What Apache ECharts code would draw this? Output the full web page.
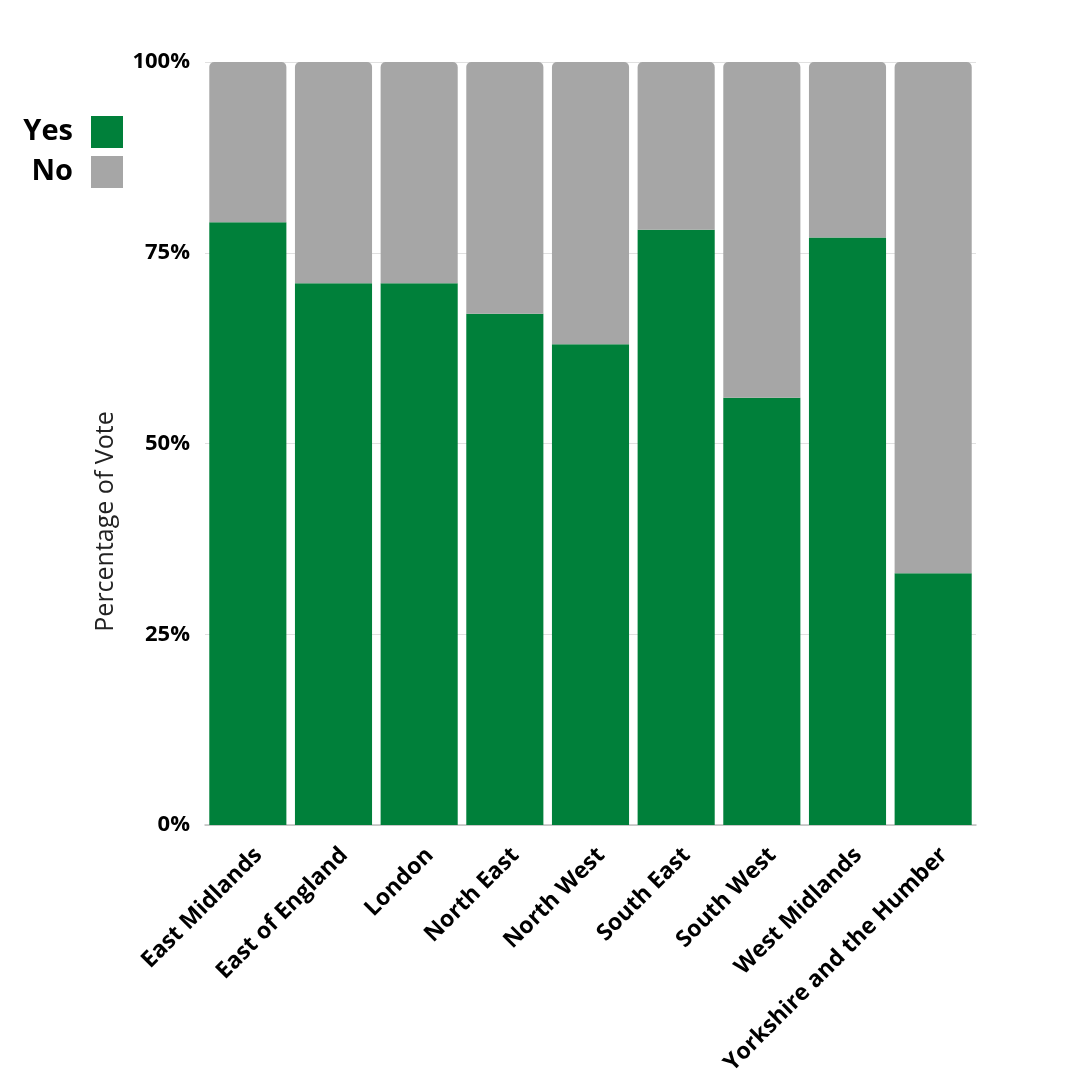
<!DOCTYPE html>
<html><head><meta charset="utf-8">
<script src="https://cdn.jsdelivr.net/npm/echarts@6/dist/echarts.min.js"></script>
<style>html,body{margin:0;padding:0;background:#fff}#c{width:1080px;height:1080px}</style>
</head><body><div id="c"></div>
<script>
const categories = ['East Midlands','East of England','London','North East','North West','South East','South West','West Midlands','Yorkshire and the Humber'];
const yesValues = [79, 71, 71, 67, 63, 78, 56, 77, 33];
const noValues = [21, 29, 29, 33, 37, 22, 44, 23, 67];
const yTicks = ['0%','25%','50%','75%','100%'];

const chart = echarts.init(document.getElementById('c'));
const legendText = {fontFamily:'Open Sans', fontWeight:'bold', fontSize:29, color:'#000', padding:[0,13,0,0]};
chart.setOption({
  animation:false,
  textStyle:{fontFamily:'Open Sans'},
  legend:[
    {data:['Yes'], right:957, top:116, padding:0, align:'right', itemWidth:32, itemHeight:32, itemGap:0, textStyle:legendText, icon:'rect'},
    {data:['No'], right:957, top:156, padding:0, align:'right', itemWidth:32, itemHeight:32, itemGap:0, textStyle:legendText, icon:'rect'}
  ],
  grid:{left:205, right:104, top:62, bottom:255},
  xAxis:{type:'category', data:categories,
    axisLine:{lineStyle:{color:'#bfbfbf', width:1.5}}, axisTick:{show:false},
    axisLabel:{rotate:45, interval:0, fontSize:23, fontWeight:'bold', color:'#000', margin:16, lineHeight:30, verticalAlign:'top', fontFamily:'Open Sans'}},
  yAxis:{type:'value', min:0, max:100, interval:25,
    name:'Percentage of Vote', nameLocation:'middle', nameGap:87, nameRotate:90,
    nameTextStyle:{fontSize:25, color:'#222', fontFamily:'Open Sans', padding:[0,156,0,0]},
    axisLine:{show:false}, axisTick:{show:false},
    splitLine:{lineStyle:{color:'#e0e0e0', width:1}},
    axisLabel:{fontSize:22, fontWeight:'bold', color:'#000', margin:15, fontFamily:'Open Sans',
      formatter:function(v){return yTicks[v/25];}}},
  series:[
    {name:'Yes', type:'bar', stack:'v', data:yesValues, barCategoryGap:'10%', itemStyle:{color:'#00803a'}},
    {name:'No', type:'bar', stack:'v', data:noValues, barCategoryGap:'10%', itemStyle:{color:'#a6a6a6', borderRadius:[5,5,0,0]}}
  ]
});
</script></body></html>
